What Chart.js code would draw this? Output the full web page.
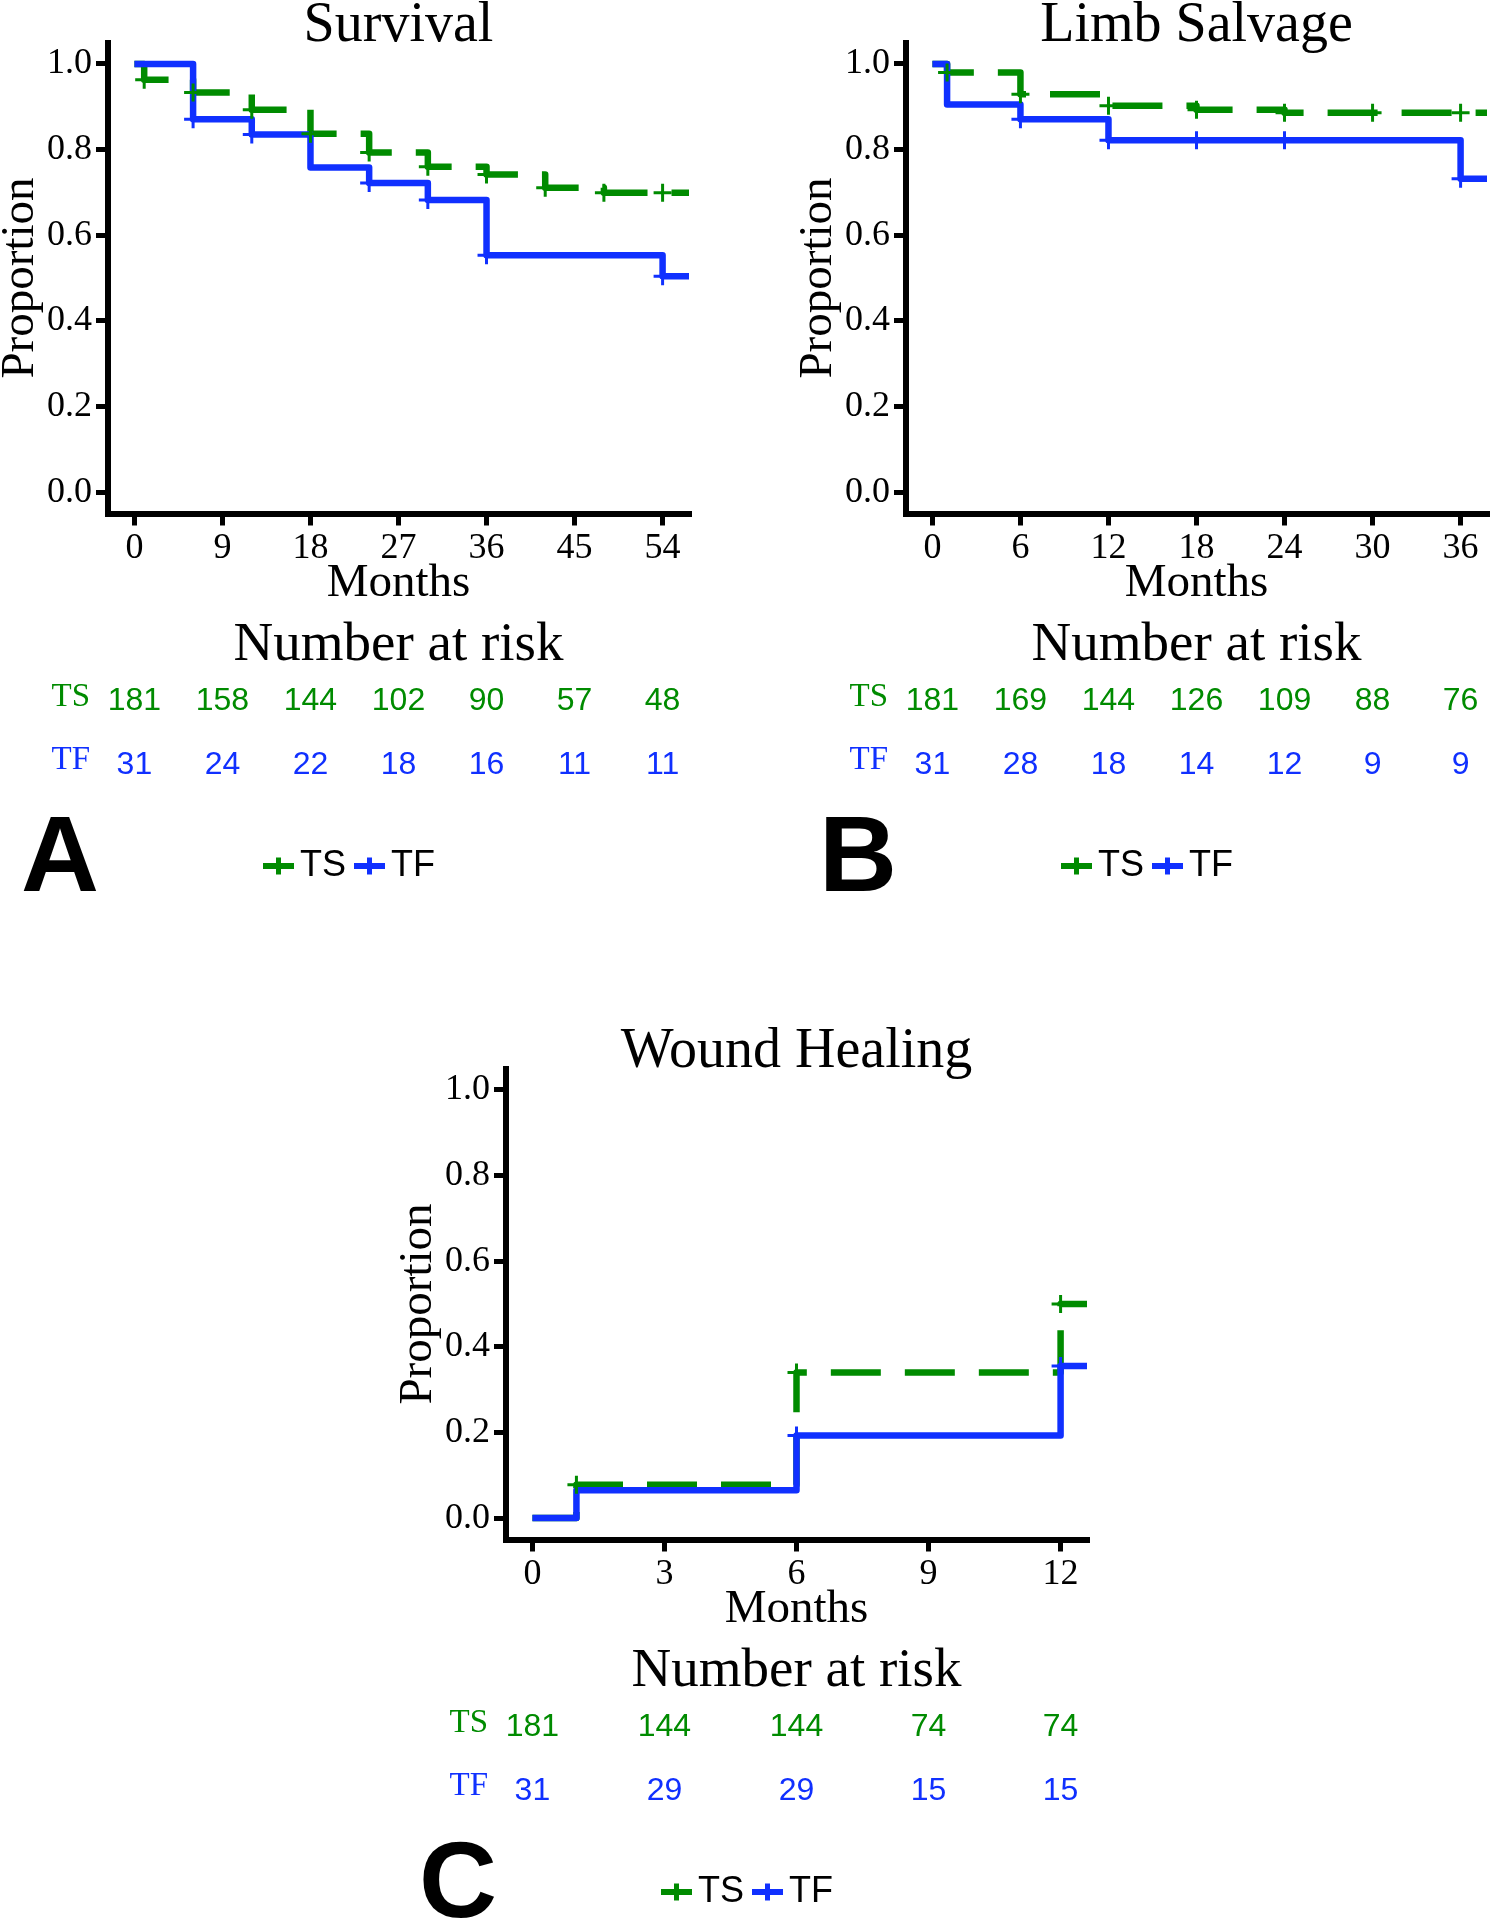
<!DOCTYPE html>
<html><head><meta charset="utf-8">
<script src="https://cdn.jsdelivr.net/npm/chart.js@4.4.1/dist/chart.umd.min.js"></script>
<style>
html,body{margin:0;padding:0;background:#fff;width:1490px;height:1920px;overflow:hidden;position:relative}
canvas{position:absolute}
#cA{left:0;top:0}
#cB{left:798px;top:0}
#cC{left:398px;top:1026px}
</style></head><body>
<canvas id="cA" width="745" height="910"></canvas>
<canvas id="cB" width="745" height="910"></canvas>
<canvas id="cC" width="745" height="910"></canvas>
<script>
// ================= DATA =================
const seriesNames = ['TS', 'TF'];
const yTicks = [0, 0.2, 0.4, 0.6, 0.8, 1.0];
const yTickLabels = ['0.0', '0.2', '0.4', '0.6', '0.8', '1.0'];
const yRange = [-0.05, 1.05];

// Panel A : Survival
const survTicks = [0, 9, 18, 27, 36, 45, 54];
const survTickLabels = ['0', '9', '18', '27', '36', '45', '54'];
const survRange = [-2.7, 56.7];
const survTS_time = [0, 1, 6, 12, 18, 24, 30, 36, 42, 48, 56.7];
const survTS_prob = [1.000, 0.963, 0.933, 0.893, 0.837, 0.793, 0.760, 0.742, 0.711, 0.699, 0.699];
const survTS_censTime = [1, 6, 12, 18, 24, 30, 36, 42, 48, 54];
const survTS_censProb = [0.963, 0.933, 0.893, 0.837, 0.793, 0.760, 0.742, 0.711, 0.699, 0.699];
const survTF_time = [0, 6, 12, 18, 24, 30, 36, 54, 56.7];
const survTF_prob = [1.000, 0.871, 0.835, 0.758, 0.722, 0.682, 0.553, 0.504, 0.504];
const survTF_censTime = [6, 12, 24, 30, 36, 54];
const survTF_censProb = [0.871, 0.835, 0.722, 0.682, 0.553, 0.504];
const survRiskTS = [181, 158, 144, 102, 90, 57, 48];
const survRiskTF = [31, 24, 22, 18, 16, 11, 11];

// Panel B : Limb Salvage
const limbTicks = [0, 6, 12, 18, 24, 30, 36];
const limbTickLabels = ['0', '6', '12', '18', '24', '30', '36'];
const limbRange = [-1.8, 37.8];
const limbTS_time = [0, 1, 6, 12, 18, 24, 37.8];
const limbTS_prob = [1.000, 0.980, 0.929, 0.902, 0.893, 0.886, 0.886];
const limbTS_censTime = [1, 6, 12, 18, 24, 30, 36];
const limbTS_censProb = [0.980, 0.929, 0.902, 0.893, 0.886, 0.886, 0.886];
const limbTF_time = [0, 1, 6, 12, 36, 37.8];
const limbTF_prob = [1.000, 0.905, 0.871, 0.822, 0.732, 0.732];
const limbTF_censTime = [6, 12, 18, 24, 36];
const limbTF_censProb = [0.871, 0.822, 0.822, 0.822, 0.732];
const limbRiskTS = [181, 169, 144, 126, 109, 88, 76];
const limbRiskTF = [31, 28, 18, 14, 12, 9, 9];

// Panel C : Wound Healing
const woundTicks = [0, 3, 6, 9, 12];
const woundTickLabels = ['0', '3', '6', '9', '12'];
const woundRange = [-0.6, 12.6];
const woundTS_time = [0, 1, 6, 12, 12.6];
const woundTS_prob = [0.000, 0.078, 0.340, 0.500, 0.500];
const woundTS_censTime = [1, 6, 12];
const woundTS_censProb = [0.078, 0.340, 0.500];
const woundTF_time = [0, 1, 6, 12, 12.6];
const woundTF_prob = [0.000, 0.065, 0.193, 0.355, 0.355];
const woundTF_censTime = [6, 12];
const woundTF_censProb = [0.193, 0.355];
const woundRiskTS = [181, 144, 144, 74, 74];
const woundRiskTF = [31, 29, 29, 15, 15];

// ================= STYLE =================
const GREEN = '#008B00';
const BLUE = '#1030FF';
const SERIF = '"Liberation Serif", "Times New Roman", serif';
const SANS = '"Liberation Sans", Arial, sans-serif';

function pts(ts, ps) { return ts.map((t, i) => ({ x: t, y: ps[i] })); }

function lineDs(label, ts, ps, color, dash) {
  return {
    label, data: pts(ts, ps), borderColor: color, backgroundColor: color,
    borderWidth: 6.5, stepped: 'before', pointRadius: 0, pointHoverRadius: 0,
    borderDash: dash, borderCapStyle: 'butt', borderJoinStyle: 'round', fill: false
  };
}
function censDs(label, ts, ps, color) {
  return {
    label, data: pts(ts, ps), showLine: false, pointStyle: 'cross',
    pointRadius: 9, pointHoverRadius: 9, pointBorderWidth: 3, pointBorderColor: color,
    borderColor: color, backgroundColor: color
  };
}

function riskPlugin(p) {
  return {
    id: 'risk' + p.letter,
    afterDraw(chart) {
      const ctx = chart.ctx, ca = chart.chartArea, xs = chart.scales.x;
      ctx.save();
      ctx.textBaseline = 'middle';
      ctx.fillStyle = '#000';
      ctx.textAlign = 'center';
      ctx.font = '55px ' + SERIF;
      ctx.fillText('Number at risk', (ca.left + ca.right) / 2, ca.bottom + 132);
      const rows = [
        { name: seriesNames[0], vals: p.riskTS, color: GREEN, dy: 188 },
        { name: seriesNames[1], vals: p.riskTF, color: BLUE, dy: 251.5 }
      ];
      rows.forEach(r => {
        ctx.fillStyle = r.color;
        ctx.font = '33px ' + SERIF;
        ctx.textAlign = 'right';
        ctx.fillText(r.name, ca.left - 18, ca.bottom + r.dy - 4.5);
        ctx.font = '32px ' + SANS;
        ctx.textAlign = 'center';
        p.ticks.forEach((t, i) => ctx.fillText(String(r.vals[i]), xs.getPixelForValue(t), ca.bottom + r.dy));
      });
      // panel letter
      ctx.fillStyle = '#000';
      ctx.textAlign = 'left';
      ctx.textBaseline = 'alphabetic';
      ctx.font = 'bold 108px ' + SANS;
      ctx.fillText(p.letter, ca.left - 87, ca.bottom + 377);
      // legend
      let x = ca.left + 155;
      const y = ca.bottom + 352.5;
      ctx.font = '36px ' + SANS;
      ctx.textBaseline = 'middle';
      [[seriesNames[0], GREEN], [seriesNames[1], BLUE]].forEach(([n, c]) => {
        ctx.fillStyle = c;
        ctx.fillRect(x, y - 3, 31, 6);
        ctx.fillRect(x + 13, y - 8.5, 5, 17);
        x += 37;
        ctx.fillStyle = '#000';
        ctx.fillText(n, x, y);
        x += ctx.measureText(n).width + 8;
      });
      ctx.restore();
    }
  };
}

function makePanel(id, p) {
  const datasets = [
    censDs(seriesNames[0] + ' censored', p.tsCensT, p.tsCensP, GREEN),
    censDs(seriesNames[1] + ' censored', p.tfCensT, p.tfCensP, BLUE),
    lineDs(seriesNames[1], p.tfT, p.tfP, BLUE, []),
    lineDs(seriesNames[0], p.tsT, p.tsP, GREEN, [50, 24])
  ];
  new Chart(document.getElementById(id), {
    type: 'line',
    data: { datasets },
    options: {
      responsive: false, animation: false, devicePixelRatio: 1,
      layout: { padding: { left: 0, top: 0, right: 56, bottom: 306.5 } },
      plugins: {
        legend: { display: false },
        tooltip: { enabled: false },
        title: {
          display: true, text: p.title, fullSize: false, color: '#000',
          font: { family: SERIF, size: 56, weight: 'normal', lineHeight: '33px' },
          padding: { top: 9.5, bottom: 0 }
        }
      },
      scales: {
        x: {
          type: 'linear', min: p.range[0], max: p.range[1], bounds: 'data',
          afterBuildTicks: s => { s.ticks = p.ticks.map(v => ({ value: v })); },
          afterFit: s => { s.height = 90; },
          ticks: {
            autoSkip: false, maxRotation: 0, minRotation: 0, padding: 1, color: '#000',
            font: { family: SERIF, size: 36 },
            callback: (v, i) => p.tickLabels[i]
          },
          grid: { display: true, drawOnChartArea: false, drawTicks: true, tickLength: 12, lineWidth: 5, color: '#000' },
          border: { display: true, width: 6, color: '#000' },
          title: {
            display: true, text: 'Months', color: '#000',
            font: { family: SERIF, size: 47, lineHeight: '40px' }, padding: { top: 0, bottom: 0 }
          }
        },
        y: {
          type: 'linear', min: yRange[0], max: yRange[1], bounds: 'data',
          afterBuildTicks: s => { s.ticks = yTicks.map(v => ({ value: v })); },
          afterFit: s => { s.width = 108; },
          ticks: {
            autoSkip: false, padding: 4, color: '#000',
            font: { family: SERIF, size: 36 },
            callback: (v, i) => yTickLabels[i]
          },
          grid: { display: true, drawOnChartArea: false, drawTicks: true, tickLength: 12, lineWidth: 5, color: '#000' },
          border: { display: true, width: 6, color: '#000' },
          title: {
            display: true, text: 'Proportion', color: '#000',
            font: { family: SERIF, size: 47, lineHeight: '42px' }, padding: { top: 0, bottom: 0 }
          }
        }
      }
    },
    plugins: [riskPlugin(p)]
  });
}

makePanel('cA', {
  title: 'Survival', letter: 'A', ticks: survTicks, tickLabels: survTickLabels, range: survRange,
  tsT: survTS_time, tsP: survTS_prob, tsCensT: survTS_censTime, tsCensP: survTS_censProb,
  tfT: survTF_time, tfP: survTF_prob, tfCensT: survTF_censTime, tfCensP: survTF_censProb,
  riskTS: survRiskTS, riskTF: survRiskTF
});
makePanel('cB', {
  title: 'Limb Salvage', letter: 'B', ticks: limbTicks, tickLabels: limbTickLabels, range: limbRange,
  tsT: limbTS_time, tsP: limbTS_prob, tsCensT: limbTS_censTime, tsCensP: limbTS_censProb,
  tfT: limbTF_time, tfP: limbTF_prob, tfCensT: limbTF_censTime, tfCensP: limbTF_censProb,
  riskTS: limbRiskTS, riskTF: limbRiskTF
});
makePanel('cC', {
  title: 'Wound Healing', letter: 'C', ticks: woundTicks, tickLabels: woundTickLabels, range: woundRange,
  tsT: woundTS_time, tsP: woundTS_prob, tsCensT: woundTS_censTime, tsCensP: woundTS_censProb,
  tfT: woundTF_time, tfP: woundTF_prob, tfCensT: woundTF_censTime, tfCensP: woundTF_censProb,
  riskTS: woundRiskTS, riskTF: woundRiskTF
});
</script>
</body></html>
